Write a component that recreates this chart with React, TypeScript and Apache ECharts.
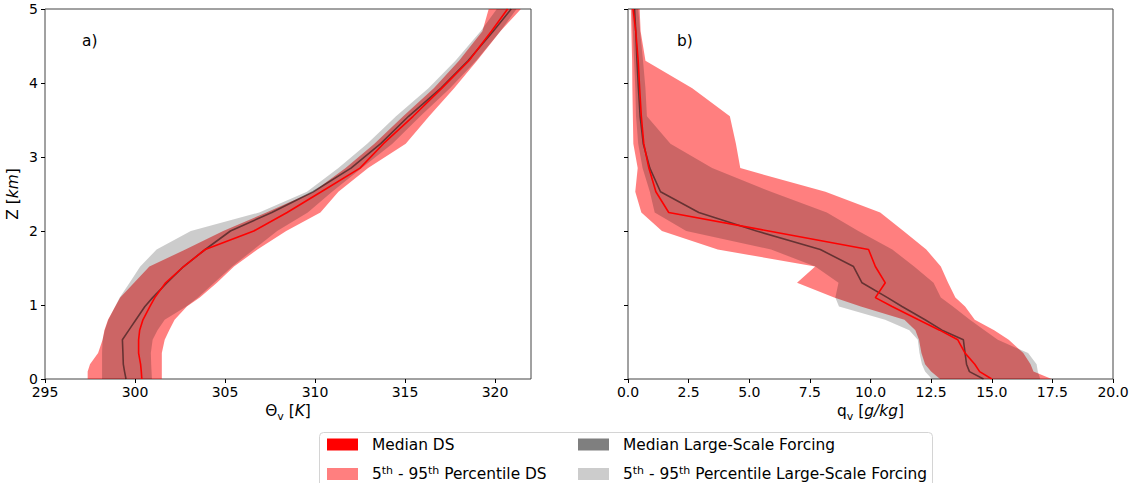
import { useEffect, useRef } from 'react';
import * as echarts from 'echarts';

// Height levels of the profiles (km)
const heightsKm = [0, 0.1, 0.2, 0.35, 0.53, 0.66, 0.8, 0.98, 1.1, 1.3, 1.52, 1.75, 2.0, 2.25, 2.53, 2.85, 3.18, 3.55, 3.93, 4.3, 4.7, 5.0];

// Virtual potential temperature (K)
const thetaDsMedian = [300.38, 300.35, 300.31, 300.2, 300.2, 300.26, 300.44, 300.83, 301.1, 301.7, 302.7, 303.9, 306.6, 308.45, 310.35, 312.5, 313.8, 315.45, 317.05, 318.55, 319.8, 320.7];
const thetaDsP05 = [297.37, 297.37, 297.5, 297.95, 298.2, 298.3, 298.5, 298.9, 299.18, 299.95, 300.8, 302.8, 304.9, 307.3, 309.9, 311.7, 313.3, 314.9, 316.6, 318.0, 319.3, 319.65];
const thetaDsP95 = [301.49, 301.49, 301.49, 301.49, 301.65, 301.9, 302.2, 302.88, 303.6, 304.55, 305.5, 306.8, 308.4, 310.3, 311.3, 312.95, 315.04, 316.34, 317.73, 319.0, 320.3, 321.44];
const thetaLsMedian = [299.5, 299.42, 299.35, 299.33, 299.3, 299.66, 300.05, 300.55, 300.98, 301.78, 302.7, 303.9, 305.3, 307.6, 309.9, 312.0, 313.65, 315.2, 317.0, 318.5, 319.9, 320.9];
const thetaLsP05 = [298.17, 298.17, 298.17, 298.17, 298.2, 298.32, 298.52, 298.9, 299.15, 299.7, 300.29, 301.2, 303.1, 306.9, 309.55, 311.3, 312.9, 314.5, 316.3, 317.8, 319.2, 320.1];
const thetaLsP95 = [300.94, 300.92, 300.9, 300.88, 300.98, 301.25, 301.65, 302.85, 303.5, 304.4, 305.4, 306.6, 307.9, 309.6, 310.95, 312.6, 314.3, 315.85, 317.5, 318.95, 320.3, 321.2];

// Water vapour mixing ratio (g/kg)
const qDsMedian = [15.0, 14.5, 14.3, 13.9, 13.6, 12.85, 11.98, 10.89, 10.2, 10.61, 10.2, 9.92, 5.8, 1.68, 1.15, 0.86, 0.65, 0.55, 0.48, 0.42, 0.32, 0.21];
const qDsP05 = [12.87, 12.5, 12.25, 12.1, 12.0, 11.85, 11.4, 9.6, 8.5, 6.97, 7.72, 3.7, 1.4, 0.55, 0.3, 0.4, 0.22, 0.2, 0.18, 0.17, 0.14, 0.12];
const qDsP95 = [17.47, 16.72, 16.6, 16.3, 15.7, 15.1, 14.3, 13.9, 13.5, 13.2, 12.9, 12.3, 11.36, 10.4, 8.14, 4.63, 4.45, 4.2, 2.65, 0.72, 0.52, 0.48];
const qLsMedian = [14.66, 14.08, 13.96, 13.9, 13.83, 12.95, 12.25, 11.3, 10.7, 9.65, 9.3, 7.93, 5.3, 2.92, 1.34, 0.9, 0.63, 0.5, 0.43, 0.37, 0.32, 0.27];
const qLsP05 = [12.53, 12.25, 12.12, 12.02, 11.95, 11.6, 10.6, 8.7, 8.55, 8.68, 7.72, 5.9, 2.4, 1.1, 0.9, 0.6, 0.42, 0.33, 0.3, 0.25, 0.2, 0.16];
const qLsP95 = [17.0, 16.9, 16.85, 16.5, 15.25, 14.7, 14.1, 13.4, 12.9, 12.6, 11.8, 10.9, 9.5, 8.2, 5.9, 3.47, 1.75, 0.78, 0.72, 0.62, 0.5, 0.42];

// Tick labels
const thetaTicks = [295, 300, 305, 310, 315, 320];
const qTicks = [0, 2.5, 5, 7.5, 10, 12.5, 15, 17.5, 20];
const zTicks = [0, 1, 2, 3, 4, 5];

const NAME_MED_DS = 'Median DS';
const NAME_BAND_DS = '5th - 95th Percentile DS';
const NAME_MED_LS = 'Median Large-Scale Forcing';
const NAME_BAND_LS = '5th - 95th Percentile Large-Scale Forcing';

const FONT = 'DejaVu Sans';
const RED = '#ff0000';
const RED_FILL = 'rgba(255,0,0,0.5)';
const GREY_LINE = 'rgba(0,0,0,0.5)';
const GREY_FILL = 'rgba(0,0,0,0.2)';

function profile(values: number[]) {
  return values.map((v, i) => [v, heightsKm[i]]);
}

function bandSeries(name: string, low: number[], high: number[], fill: string, axis: number) {
  const ring = profile(low).concat(profile(high).reverse());
  return {
    type: 'custom',
    name,
    xAxisIndex: axis,
    yAxisIndex: axis,
    clip: true,
    silent: true,
    itemStyle: { color: fill },
    encode: { x: 0, y: 1 },
    data: ring,
    renderItem: (params: any, api: any) => {
      if (params.dataIndex !== 0) return { type: 'group', children: [] };
      const points = ring.map((p) => api.coord(p));
      return { type: 'polygon', shape: { points }, style: { fill } };
    },
  };
}

function lineSeries(name: string, values: number[], color: string, axis: number) {
  return {
    type: 'line',
    name,
    xAxisIndex: axis,
    yAxisIndex: axis,
    data: profile(values),
    symbol: 'none',
    silent: true,
    color,
    itemStyle: { color },
    lineStyle: { color, width: 1.6 },
  };
}

const tickText = { color: '#000', fontSize: 14, fontFamily: FONT };

const NAME_SIZE = 15.4;
const nameRich = {
  t: { fontSize: NAME_SIZE, fontFamily: FONT, color: '#000', lineHeight: 22 },
  s: { fontSize: 11, fontFamily: FONT, color: '#000', verticalAlign: 'bottom', lineHeight: 11 },
  i: { fontSize: NAME_SIZE, fontFamily: FONT, color: '#000', fontStyle: 'italic', lineHeight: 22 },
};

function legendFormatter(name: string) {
  return '{g|}' + name.replace(/(\d+)th/g, '{n|$1}{s|th}').replace(/(^|\})([^{}]+)(?=\{|$)/g, (m, a, b) => a + '{n|' + b + '}');
}

const legendRich = {
  g: { width: 9 },
  n: { fontSize: 15.4, fontFamily: FONT, color: '#000', lineHeight: 18 },
  s: { fontSize: 11, fontFamily: FONT, color: '#000', verticalAlign: 'top', lineHeight: 12 },
};

function legendBlock(names: string[], left: number) {
  return {
    data: names,
    left,
    top: 437,
    orient: 'vertical',
    icon: 'rect',
    itemWidth: 31,
    itemHeight: 12,
    itemGap: 13,
    selectedMode: false,
    padding: 0,
    formatter: legendFormatter,
    textStyle: { rich: legendRich, fontSize: 15.4, fontFamily: FONT },
  };
}

function axisCommon() {
  return {
    type: 'value',
    axisLine: { show: false },
    axisTick: { show: true, inside: false, length: 4, lineStyle: { color: '#000', width: 1 } },
    splitLine: { show: false },
  };
}

export default function App() {
  const ref = useRef<HTMLDivElement>(null);

  useEffect(() => {
    if (!ref.current) return;
    const chart = echarts.init(ref.current, undefined, { renderer: 'svg' });
    chart.setOption({
      animation: false,
      backgroundColor: '#ffffff',
      grid: [
        { left: 45, top: 9, width: 486, height: 370, show: true, borderColor: '#444', borderWidth: 1, backgroundColor: 'transparent' },
        { left: 628, top: 9, width: 485, height: 370, show: true, borderColor: '#444', borderWidth: 1, backgroundColor: 'transparent' },
      ],
      xAxis: [
        {
          ...axisCommon(),
          gridIndex: 0,
          min: 295,
          max: 322,
          interval: 5,
          axisTick: { ...axisCommon().axisTick, customValues: thetaTicks },
          axisLabel: { ...tickText, margin: 6, customValues: thetaTicks },
          name: '{t|Θ}{s|v}{t| [}{i|K}{t|]}',
          nameLocation: 'middle',
          nameGap: 20,
          nameTextStyle: { ...tickText, fontSize: NAME_SIZE, rich: nameRich },
        },
        {
          ...axisCommon(),
          gridIndex: 1,
          min: 0,
          max: 20,
          interval: 2.5,
          axisTick: { ...axisCommon().axisTick, customValues: qTicks },
          axisLabel: { ...tickText, margin: 6, customValues: qTicks, formatter: (v: number) => v.toFixed(1) },
          name: '{t|q}{s|v}{t| [}{i|g/kg}{t|]}',
          nameLocation: 'middle',
          nameGap: 20,
          nameTextStyle: { ...tickText, fontSize: NAME_SIZE, rich: nameRich },
        },
      ],
      yAxis: [
        {
          ...axisCommon(),
          gridIndex: 0,
          min: 0,
          max: 5,
          interval: 1,
          axisTick: { ...axisCommon().axisTick, customValues: zTicks },
          axisLabel: { ...tickText, margin: 7, customValues: zTicks },
          name: '{t|Z [}{i|km}{t|]}',
          nameLocation: 'middle',
          nameGap: 21,
          nameRotate: 90,
          nameTextStyle: { ...tickText, fontSize: NAME_SIZE, rich: nameRich },
        },
        {
          ...axisCommon(),
          gridIndex: 1,
          min: 0,
          max: 5,
          interval: 1,
          axisTick: { ...axisCommon().axisTick, customValues: zTicks },
          axisLabel: { show: false },
        },
      ],
      legend: [
        legendBlock([NAME_MED_DS, NAME_BAND_DS], 327),
        legendBlock([NAME_MED_LS, NAME_BAND_LS], 578),
      ],
      graphic: [
        {
          type: 'rect',
          x: 319.5,
          y: 432.5,
          z: -10,
          shape: { x: 0, y: 0, width: 613, height: 70, r: 4 },
          style: { fill: 'rgba(255,255,255,0.8)', stroke: '#d4d4d4', lineWidth: 1 },
        },
        { type: 'text', x: 82, y: 41, style: { text: 'a)', fontSize: 15.4, fontFamily: FONT, fill: '#000', verticalAlign: 'middle' } },
        { type: 'text', x: 677, y: 41, style: { text: 'b)', fontSize: 15.4, fontFamily: FONT, fill: '#000', verticalAlign: 'middle' } },
      ],
      series: [
        bandSeries(NAME_BAND_DS, thetaDsP05, thetaDsP95, RED_FILL, 0),
        bandSeries(NAME_BAND_LS, thetaLsP05, thetaLsP95, GREY_FILL, 0),
        lineSeries(NAME_MED_LS, thetaLsMedian, GREY_LINE, 0),
        lineSeries(NAME_MED_DS, thetaDsMedian, RED, 0),
        bandSeries(NAME_BAND_DS, qDsP05, qDsP95, RED_FILL, 1),
        bandSeries(NAME_BAND_LS, qLsP05, qLsP95, GREY_FILL, 1),
        lineSeries(NAME_MED_LS, qLsMedian, GREY_LINE, 1),
        lineSeries(NAME_MED_DS, qDsMedian, RED, 1),
      ],
    });
    return () => chart.dispose();
  }, []);

  return <div ref={ref} style={{ position: 'fixed', left: 0, top: 0, width: 1136, height: 483 }} />;
}
